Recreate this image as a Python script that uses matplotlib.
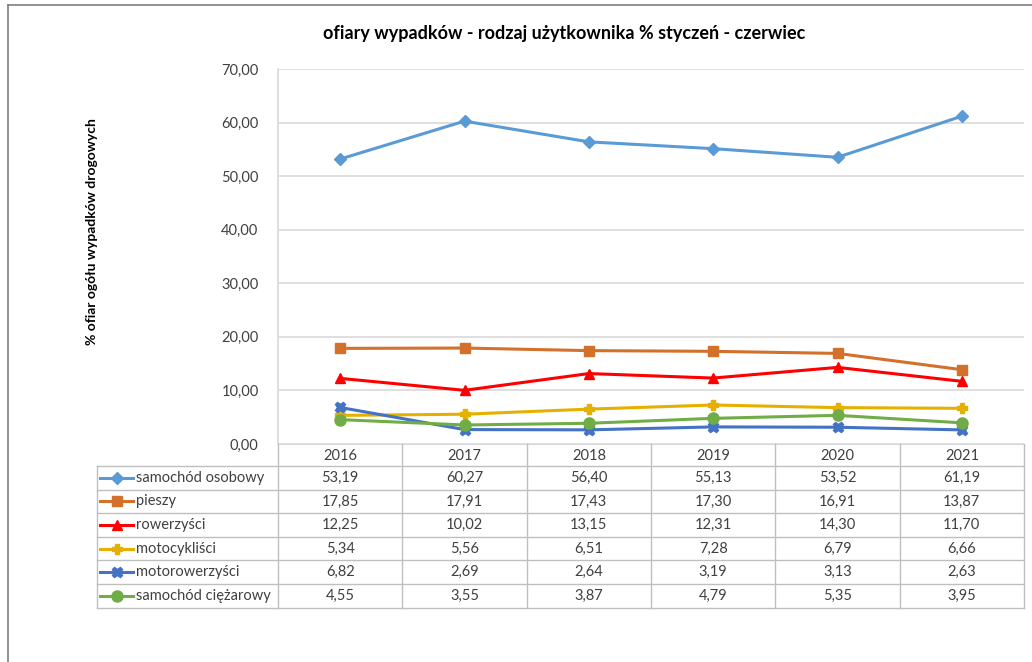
import matplotlib
matplotlib.use("Agg")
import matplotlib.pyplot as plt
from matplotlib.lines import Line2D

plt.rcParams['font.family'] = ['Lato', 'DejaVu Sans']

# --- data ---
years = ["2016", "2017", "2018", "2019", "2020", "2021"]
names = ["samochód osobowy", "pieszy", "rowerzyści", "motocykliści",
         "motorowerzyści", "samochód ciężarowy"]
osobowy = [53.19, 60.27, 56.40, 55.13, 53.52, 61.19]
pieszy = [17.85, 17.91, 17.43, 17.30, 16.91, 13.87]
rowerzysci = [12.25, 10.02, 13.15, 12.31, 14.30, 11.70]
motocyklisci = [5.34, 5.56, 6.51, 7.28, 6.79, 6.66]
motorowerzysci = [6.82, 2.69, 2.64, 3.19, 3.13, 2.63]
ciezarowy = [4.55, 3.55, 3.87, 4.79, 5.35, 3.95]
series = [osobowy, pieszy, rowerzysci, motocyklisci, motorowerzysci, ciezarowy]

colors = ["#5B9BD5", "#D2702C", "#FF0000", "#E5B000", "#4472C4", "#70AD47"]
markers = ["D", "s", "^", "P", "X", "o"]
msizes = [6.5, 7.5, 7.5, 7.5, 7.5, 8]

W, H = 1032, 662
fig = plt.figure(figsize=(W / 100, H / 100), dpi=100)


def fx(px):
    return px / W


def fy(py):
    return 1 - py / H


# outer chart frame
fig.add_artist(Line2D([fx(8), fx(1032)], [fy(5), fy(5)], color="#7F7F7F", lw=1.2))
fig.add_artist(Line2D([fx(8), fx(8)], [fy(5), fy(662)], color="#7F7F7F", lw=1.2))

left, right, top, bottom = 278, 1024, 69, 444
ax = fig.add_axes([fx(left), fy(bottom), fx(right) - fx(left), fy(top) - fy(bottom)])

x = list(range(len(years)))
for vals, c, m, ms in zip(series, colors, markers, msizes):
    ax.plot(x, vals, color=c, lw=2.2, marker=m, ms=ms, mfc=c, mec=c, zorder=3)

ax.set_xlim(-0.5, len(years) - 0.5)
ax.set_ylim(0, 70)
ax.set_yticks(range(0, 71, 10))
ax.set_yticklabels([f"{v:.2f}".replace(".", ",") for v in range(0, 71, 10)],
                   fontsize=10.5, color="#404040")
ax.set_xticks([])
ax.grid(axis="y", color="#D9D9D9", lw=1.2)
ax.set_axisbelow(True)
for s in ["top", "right"]:
    ax.spines[s].set_visible(False)
ax.spines["left"].set_color("#D9D9D9")
ax.spines["bottom"].set_color("#D9D9D9")
ax.spines["left"].set_linewidth(1.2)
ax.tick_params(axis="y", length=0, pad=14)

fig.text(fx(564), fy(33), "ofiary wypadków - rodzaj użytkownika % styczeń - czerwiec",
         ha="center", va="center", fontsize=13, fontweight="bold", color="#000000")
fig.text(fx(92), fy(232), "% ofiar ogółu wypadków drogowych", rotation=90,
         ha="center", va="center", fontsize=10, fontweight="bold", color="#000000")

# --- data table ---
gc = "#BFBFBF"
col_w = (right - left) / len(years)
header_bot = 466
row_h = 23.6
tab_left = 97
tab_bot = header_bot + row_h * len(names)

for i in range(len(years) + 1):
    xx = left + i * col_w
    fig.add_artist(Line2D([fx(xx), fx(xx)], [fy(bottom), fy(tab_bot)], color=gc, lw=1))
fig.add_artist(Line2D([fx(tab_left), fx(tab_left)], [fy(header_bot), fy(tab_bot)], color=gc, lw=1))
for r in range(len(names) + 1):
    yy = header_bot + r * row_h
    fig.add_artist(Line2D([fx(tab_left), fx(right)], [fy(yy), fy(yy)], color=gc, lw=1))

for i, yr in enumerate(years):
    fig.text(fx(left + (i + 0.5) * col_w), fy((bottom + header_bot) / 2 + 1), yr,
             ha="center", va="center", fontsize=10.5, color="#404040")

for r, (nm, vals, c, m, ms) in enumerate(zip(names, series, colors, markers, msizes)):
    yc = header_bot + (r + 0.5) * row_h
    fig.add_artist(Line2D([fx(100), fx(116.5), fx(133)], [fy(yc)] * 3, color=c, lw=2.2,
                          marker=m, markevery=[1], ms=ms, mfc=c, mec=c))
    fig.text(fx(136), fy(yc), nm, ha="left", va="center", fontsize=10.5, color="#404040")
    for i, v in enumerate(vals):
        fig.text(fx(left + (i + 0.5) * col_w), fy(yc), f"{v:.2f}".replace(".", ","),
                 ha="center", va="center", fontsize=10.5, color="#404040")

fig.savefig("out.png", dpi=100)
